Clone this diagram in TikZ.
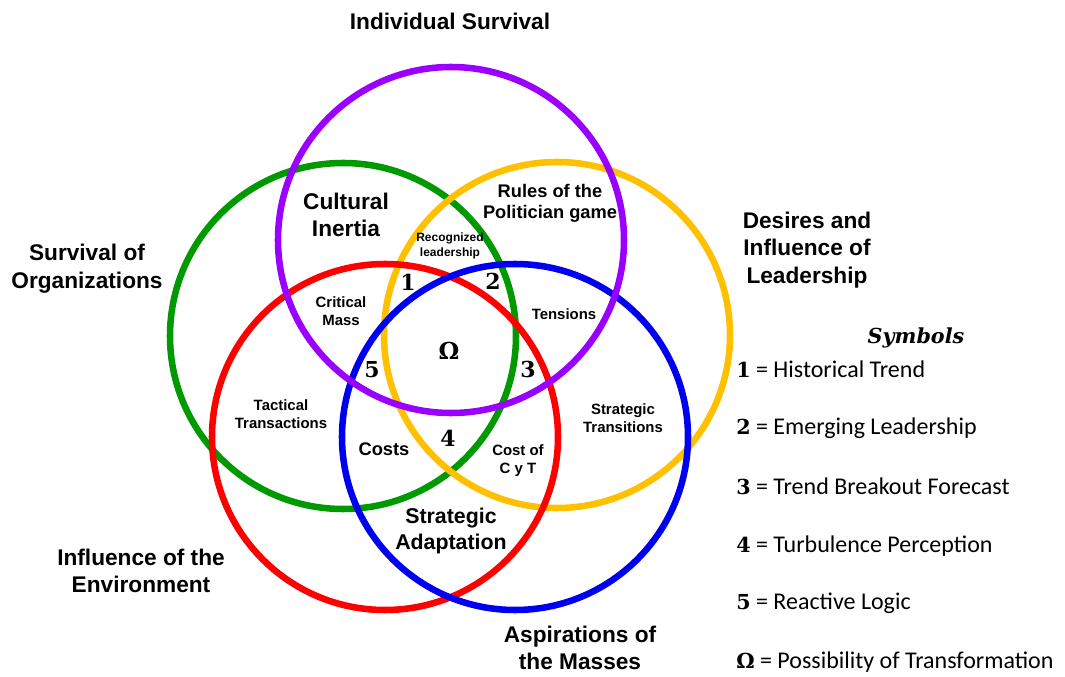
\documentclass[tikz,border=0pt]{standalone}
\usepackage{fontspec}
\newfontfamily\arialf{Liberation Sans}
\newfontfamily\calf{Carlito}
\newfontfamily\serf{DejaVu Serif}
\definecolor{cpurple}{HTML}{9900FF}
\definecolor{cgreen}{HTML}{009A00}
\definecolor{cyellow}{HTML}{FFC000}
\definecolor{cred}{HTML}{FF0000}
\definecolor{cblue}{HTML}{0000F0}
\begin{document}
\begin{tikzpicture}[x=0.75pt,y=-0.75pt,
  ring/.style={line width=4.9pt},
  big/.style={font=\arialf\bfseries\fontsize{17}{20.8}\selectfont, align=center, inner sep=0pt},
  mid/.style={font=\arialf\bfseries\fontsize{13.7}{15.8}\selectfont, align=center, inner sep=0pt},
  small/.style={font=\arialf\bfseries\fontsize{11.2}{13.5}\selectfont, align=center, inner sep=0pt},
  tiny/.style={font=\arialf\bfseries\fontsize{9}{11.2}\selectfont, align=center, inner sep=0pt},
  num/.style={font=\serf\bfseries\fontsize{16.5}{20}\selectfont, inner sep=0pt},
  leg/.style={font=\calf\fontsize{18}{20}\selectfont, anchor=west, inner sep=0pt},
]
\useasboundingbox (0,0) rectangle (1065,677);
% circles
\draw[ring, cgreen]  (343,336) circle [radius=129.75pt];
\draw[ring, cyellow] (557,335) circle [radius=129.75pt];
\draw[ring, cred]    (385,437) circle [radius=129.75pt];
\draw[ring, cblue]   (515,437) circle [radius=129.75pt];
\draw[ring, cpurple] (451,240) circle [radius=129.75pt];
% outer labels
\node[big] (is) at (450,21) {Individual Survival};
\node[big] (dl) at (807,250) {Desires and\\Influence of\\Leadership};
\node[big] (so) at (87,269) {Survival of\\Organizations};
\node[big] (ie) at (141,571) {Influence of the\\Environment};
\node[big] (am) at (580,648) {Aspirations of\\the Masses};
% inner labels
\node[big] (ci) at (346,215) {Cultural\\Inertia};
\node[mid] (rp) at (550,203) {Rules of the\\Politician game};
\node[tiny] (rl) at (450,246) {Recognized\\leadership};
\node[small] (te) at (564,314) {Tensions};
\node[small] (st) at (623,418) {Strategic\\Transitions};
\node[small] (cc) at (518,461) {Cost of\\C y T};
\node[small] (cm) at (341,311) {Critical\\Mass};
\node[small] (tt) at (281,414) {Tactical\\Transactions};
\node[mid] (co) at (384,449) {Costs};
\node[big, font=\arialf\bfseries\fontsize{16}{19.5}\selectfont] (sa) at (451,531) {Strategic\\Adaptation};
% numbers
\node[num] (n1) at (408,282) {1};
\node[num] (n2) at (493,281) {2};
\node[num] (n3) at (528,369) {3};
\node[num] (n4) at (448,438) {4};
\node[num] (n5) at (372,370) {5};
\node[num, font=\serf\bfseries\fontsize{17.5}{21}\selectfont] (om) at (449,351) {Ω};
% legend
\node[font=\serf\bfseries\itshape\fontsize{15.5}{20}\selectfont, inner sep=0pt] (sy) at (916,338) {Symbols};
\node[leg] (l1) at (736,369) {{\serf\bfseries\fontsize{15.5}{20}\selectfont 1} = Historical Trend};
\node[leg] (l2) at (736,428) {{\serf\bfseries\fontsize{15.5}{20}\selectfont 2} = Emerging Leadership};
\node[leg] (l3) at (736,486) {{\serf\bfseries\fontsize{15.5}{20}\selectfont 3} = Trend Breakout Forecast};
\node[leg] (l4) at (736,546) {{\serf\bfseries\fontsize{15.5}{20}\selectfont 4} = Turbulence Perception};
\node[leg] (l5) at (736,603) {{\serf\bfseries\fontsize{15.5}{20}\selectfont 5} = Reactive Logic};
\node[leg] (l6) at (736,662) {{\serf\bfseries\fontsize{15.5}{20}\selectfont Ω} = Possibility of Transformation};
\end{tikzpicture}
\end{document}
